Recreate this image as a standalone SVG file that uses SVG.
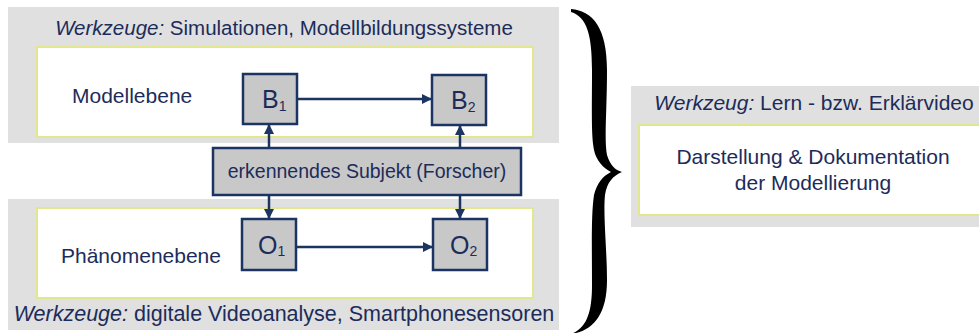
<svg xmlns="http://www.w3.org/2000/svg" width="979" height="333" viewBox="0 0 979 333">
<style>
.panel{fill:#e0e0e0;}
.inner{fill:#ffffff;stroke:#e2e68c;stroke-width:2;}
.node{fill:#c8c8c8;stroke:#1b3461;stroke-width:2.5;}
.t{font-family:"Liberation Sans",Arial,sans-serif;fill:#1c2c5a;}
.it{font-style:italic;}
.conn{stroke:#1b3461;stroke-width:2.5;fill:none;}
</style>
<defs>
<marker id="ah" viewBox="0 0 10 10" refX="10" refY="5" markerWidth="4.4" markerHeight="4" orient="auto" markerUnits="strokeWidth">
<path d="M0,0 L10,5 L0,10 Z" fill="#1b3461"/>
</marker>
</defs>
<rect width="979" height="333" fill="#ffffff"/>

<g id="panel-model">
<rect class="panel" x="8" y="7" width="551" height="136"/>
<text class="t" x="284" y="35" font-size="20.5" text-anchor="middle"><tspan class="it">Werkzeuge:</tspan> Simulationen, Modellbildungssysteme</text>
<rect class="inner" x="37" y="47" width="496" height="90"/>
<text class="t" x="72" y="103" font-size="21">Modellebene</text>
</g>

<g id="panel-phenomenon">
<rect class="panel" x="8" y="199" width="551" height="131"/>
<rect class="inner" x="37" y="208" width="496" height="90"/>
<text class="t" x="61" y="263" font-size="21">Phänomenebene</text>
<text class="t" x="284" y="321" font-size="21.5" text-anchor="middle"><tspan class="it">Werkzeuge:</tspan> digitale Videoanalyse, Smartphonesensoren</text>
</g>

<g id="panel-video">
<rect class="panel" x="631" y="86" width="350" height="141"/>
<text class="t" x="814" y="110" font-size="21" text-anchor="middle"><tspan class="it">Werkzeug:</tspan> Lern - bzw. Erklärvideo</text>
<rect class="inner" x="639" y="125" width="345" height="90"/>
<text class="t" x="813" y="164" font-size="21" text-anchor="middle">Darstellung &amp; Dokumentation</text>
<text class="t" x="813" y="190" font-size="21" text-anchor="middle">der Modellierung</text>
</g>

<g id="brace">
<path fill="#000000" d="M571,9 C593,11 607,28 607,70 C607,110 604,140 607,155 C610,165 615,170 622,172 C613,176 607,182 605,195 C603,215 607,250 607,280 C607,315 593,331 571,334 C587,328 592,312 592,285 C592,250 591,215 594,195 C597,183 603,176 611,172 C603,168 596,160 594,150 C591,135 592,110 592,70 C592,35 587,17 571,12 Z"/>
</g>

<g id="connectors">
<line class="conn" x1="297" y1="99" x2="432" y2="99" marker-end="url(#ah)"/>
<line class="conn" x1="296" y1="247" x2="433" y2="247" marker-end="url(#ah)"/>
<line class="conn" x1="269" y1="148" x2="269" y2="124" marker-end="url(#ah)"/>
<line class="conn" x1="460" y1="148" x2="460" y2="125" marker-end="url(#ah)"/>
<line class="conn" x1="269" y1="195" x2="269" y2="219" marker-end="url(#ah)"/>
<line class="conn" x1="460" y1="195" x2="460" y2="219" marker-end="url(#ah)"/>
</g>

<g id="node-subject">
<rect class="node" x="213" y="148" width="308" height="47"/>
<text class="t" x="367" y="178" font-size="19.5" text-anchor="middle">erkennendes Subjekt (Forscher)</text>
</g>

<g id="node-B1">
<rect class="node" x="243" y="74" width="54" height="50"/>
<text class="t" x="262" y="108" font-size="25">B<tspan font-size="14" dy="3">1</tspan></text>
</g>
<g id="node-B2">
<rect class="node" x="432" y="75" width="54" height="50"/>
<text class="t" x="451" y="109" font-size="25">B<tspan font-size="14" dy="3">2</tspan></text>
</g>
<g id="node-O1">
<rect class="node" x="242" y="219" width="54" height="51"/>
<text class="t" x="258" y="254" font-size="25">O<tspan font-size="14" dy="2">1</tspan></text>
</g>
<g id="node-O2">
<rect class="node" x="433" y="219" width="54" height="51"/>
<text class="t" x="450" y="254" font-size="25">O<tspan font-size="14" dy="2">2</tspan></text>
</g>
</svg>
